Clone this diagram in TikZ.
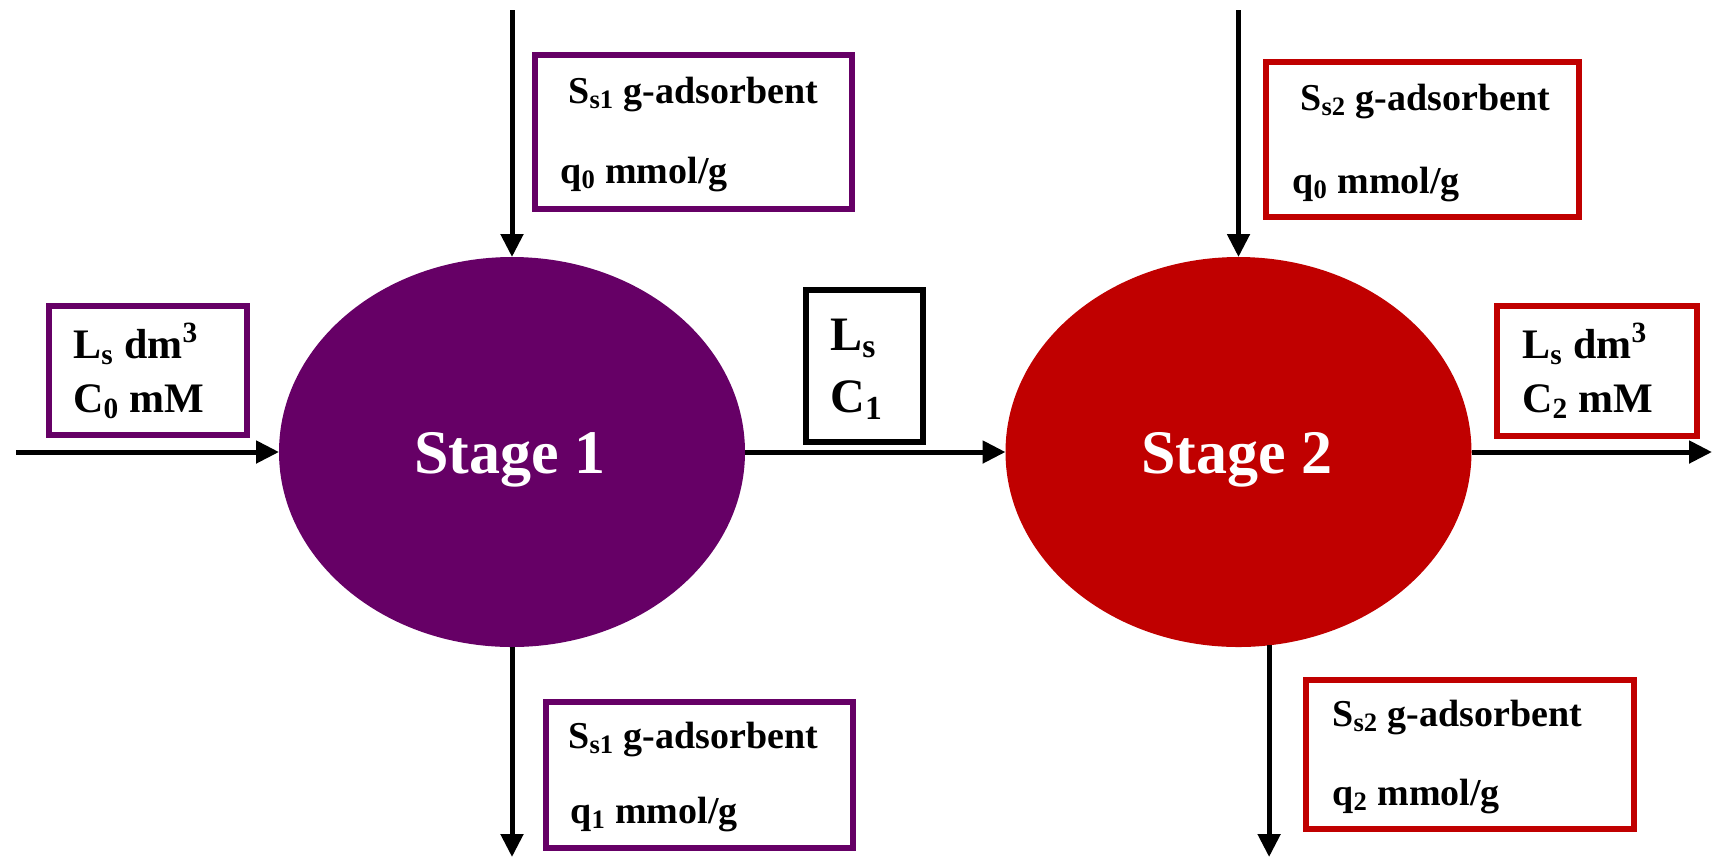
\documentclass[tikz,border=0pt]{standalone}
\usepackage{fontspec}
\setmainfont{Liberation Serif}
\usetikzlibrary{shapes.geometric,arrows.meta}
\definecolor{stagepurple}{HTML}{660066}
\definecolor{stagered}{HTML}{C00000}
\tikzset{
  stageball/.style={ellipse, draw=none, fill=#1, inner sep=0pt, outer sep=0pt,
    minimum width=233pt, minimum height=195pt},
  stagetxt/.style={text=white, font=\fontsize{31}{36}\selectfont\bfseries, inner sep=0pt, anchor=base},
  infobox/.style={draw=#1, line width=3.25pt, rectangle, inner sep=0pt, outer sep=0pt},
  smalltxt/.style={font=\fontsize{19}{22}\selectfont\bfseries, inner sep=0pt, anchor=base west},
  midtxt/.style={font=\fontsize{21}{24}\selectfont\bfseries, inner sep=0pt, anchor=base west},
  bigtxt/.style={font=\fontsize{24}{28}\selectfont\bfseries, inner sep=0pt, anchor=base west},
  flow/.style={line width=2.5pt, -{Triangle[length=11.5pt,width=11pt]}},
}
\begin{document}
\begin{tikzpicture}[x=0.5pt, y=-0.5pt]
\useasboundingbox (0,0) rectangle (1714,859);

% stages
\node[stageball=stagepurple] (s1) at (512,452) {};
\node[stageball=stagered] (s2) at (1238.5,452) {};
\node[stagetxt] (s1t) at (510,473) {Stage 1};
\node[stagetxt] (s2t) at (1237,473) {Stage 2};

% stream boxes
\node[infobox=stagepurple, minimum width=158.5pt, minimum height=77pt] (top1) at (693.5,132) {};
\node[infobox=stagepurple, minimum width=99pt, minimum height=64.5pt] (feed) at (148,370.5) {};
\node[infobox=black, minimum width=58.5pt, minimum height=76pt] (mid) at (864.5,366) {};
\node[infobox=stagered, minimum width=156.5pt, minimum height=77.5pt] (top2) at (1422.5,139.5) {};
\node[infobox=stagered, minimum width=100pt, minimum height=65pt] (prod) at (1597,371) {};
\node[infobox=stagepurple, minimum width=153.5pt, minimum height=73pt] (bot1) at (699.5,775) {};
\node[infobox=stagered, minimum width=164pt, minimum height=74.5pt] (bot2) at (1470,754.5) {};

% box texts
\node[smalltxt] (top1a) at (568,103) {S\textsubscript{s1} g-adsorbent};
\node[smalltxt] (top1b) at (560,183) {q\textsubscript{0} mmol/g};
\node[midtxt] (feeda) at (73,358) {L\textsubscript{s} dm\textsuperscript{3}};
\node[midtxt] (feedb) at (73,412) {C\textsubscript{0} mM};
\node[bigtxt] (mida) at (830,350) {L\textsubscript{s}};
\node[bigtxt] (midb) at (830,412) {C\textsubscript{1}};
\node[smalltxt] (top2a) at (1300,110) {S\textsubscript{s2} g-adsorbent};
\node[smalltxt] (top2b) at (1292,193) {q\textsubscript{0} mmol/g};
\node[midtxt] (proda) at (1522,358) {L\textsubscript{s} dm\textsuperscript{3}};
\node[midtxt] (prodb) at (1522,412) {C\textsubscript{2} mM};
\node[smalltxt] (bot1a) at (568,748) {S\textsubscript{s1} g-adsorbent};
\node[smalltxt] (bot1b) at (570,823) {q\textsubscript{1} mmol/g};
\node[smalltxt] (bot2a) at (1332,726) {S\textsubscript{s2} g-adsorbent};
\node[smalltxt] (bot2b) at (1332,805) {q\textsubscript{2} mmol/g};

% free stream ends
\coordinate (feedin) at (16,452);
\coordinate (ads1in) at (512,10);
\coordinate (ads2in) at (1238.5,10);
\coordinate (prodout) at (1712,452);
\coordinate (bottom) at (0,857);

% connectors
\draw[flow] (feedin) -- (s1.west);
\draw[flow] (ads1in) -- (s1.north);
\draw[flow] (s1.east) -- (s2.west);
\draw[flow] (ads2in) -- (s2.north);
\draw[flow] (s2.east) -- (prodout);
\draw[flow] (s1.south) -- (s1.south |- bottom);
\draw[flow] (s2.-81.6) -- (s2.-81.6 |- bottom);
\end{tikzpicture}
\end{document}
